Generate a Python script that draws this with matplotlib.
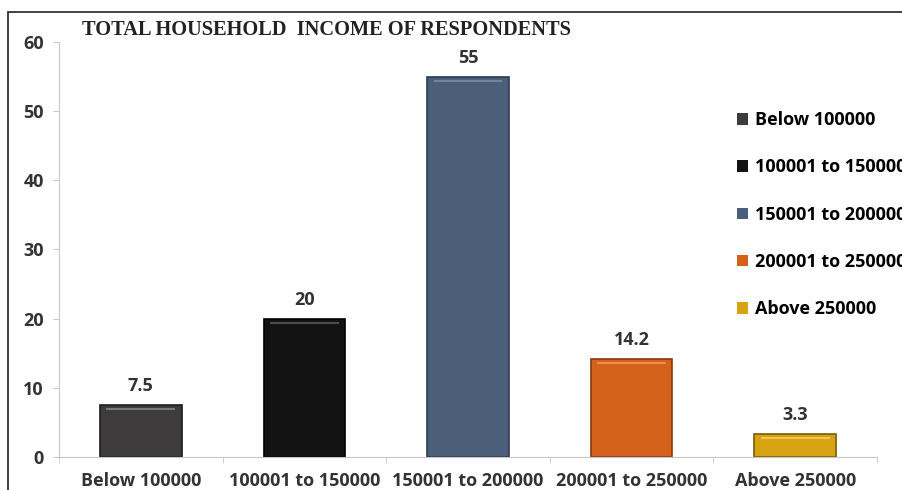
import matplotlib
matplotlib.use('Agg')
import matplotlib.pyplot as plt
from matplotlib.patches import Rectangle

categories = ['Below 100000', '100001 to 150000', '150001 to 200000',
              '200001 to 250000', 'Above 250000']
values = [7.5, 20, 55, 14.2, 3.3]
value_labels = ['7.5', '20', '55', '14.2', '3.3']
colors = ['#3e3b3c', '#131313', '#4b5e7a', '#d5621b', '#d6a412']
edge_colors = ['#1e1c1d', '#000000', '#2e3a4c', '#8a3a0c', '#7a5a05']
highlight = ['#8a8788', '#5a5a5a', '#7e90aa', '#f09a5a', '#f3d060']

plt.rcParams['font.family'] = ['Open Sans', 'DejaVu Sans']
fs = 13

fig = plt.figure(figsize=(9.03, 4.9), dpi=100)
ax = fig.add_axes([59 / 903, 1 - 457 / 490, (877 - 59) / 903, (457 - 42) / 490])

x = list(range(len(categories)))
bars = ax.bar(x, values, width=0.5, color=colors, edgecolor=edge_colors,
              linewidth=1.2, zorder=2)

# thin lighter band near the top of each bar for the bevel look
for i, b in enumerate(bars):
    h = b.get_height()
    ax.plot([b.get_x() + 0.04, b.get_x() + b.get_width() - 0.04], [h - 0.6, h - 0.6],
            color=highlight[i], linewidth=1.5, alpha=0.8, zorder=3,
            solid_capstyle='butt')
    ax.text(b.get_x() + b.get_width() / 2, h + 1.4, value_labels[i],
            ha='center', va='bottom', fontsize=fs, fontweight='bold', color='#333333')

ax.set_xlim(-0.5, len(categories) - 0.5)
ax.set_ylim(0, 60)
ax.set_yticks(range(0, 61, 10))
ax.set_xticks(x)
ax.set_xticklabels(categories, fontsize=fs, fontweight='bold', color='#333333')
ax.tick_params(axis='y', labelsize=fs, colors='#c8c8c8', length=4, pad=7)
for t in ax.get_yticklabels():
    t.set_color('#333333')
    t.set_fontweight('bold')
ax.tick_params(axis='x', length=0, pad=11)
# small ticks between categories
ax.set_xticks([i + 0.5 for i in range(-1, len(categories))], minor=True)
ax.tick_params(axis='x', which='minor', length=4, color='#c8c8c8')

for side in ['top', 'right']:
    ax.spines[side].set_visible(False)
ax.spines['left'].set_color('#c8c8c8')
ax.spines['bottom'].set_color('#c8c8c8')

handles = [Rectangle((0, 0), 1, 1, facecolor=c) for c in colors]
fig.legend(handles, categories, loc='upper left', bbox_to_anchor=(721 / 903, 1 - 95 / 490),
           frameon=False, handlelength=0.6, handleheight=0.6,
           handletextpad=0.4, labelspacing=1.62, prop={'weight': 'bold', 'size': fs})

fig.text(82 / 903, 1 - 30 / 490, 'TOTAL HOUSEHOLD  INCOME OF RESPONDENTS',
         fontfamily='Liberation Serif', fontweight='bold', fontsize=14.7,
         va='center', ha='left', color='#222222')

# outer frame
fig.patches.append(Rectangle((8 / 903, -0.1), 1.2, 1.1 - 12 / 490, transform=fig.transFigure,
                             fill=False, edgecolor='#222222', linewidth=1.2))

fig.savefig('out.png', dpi=100)
